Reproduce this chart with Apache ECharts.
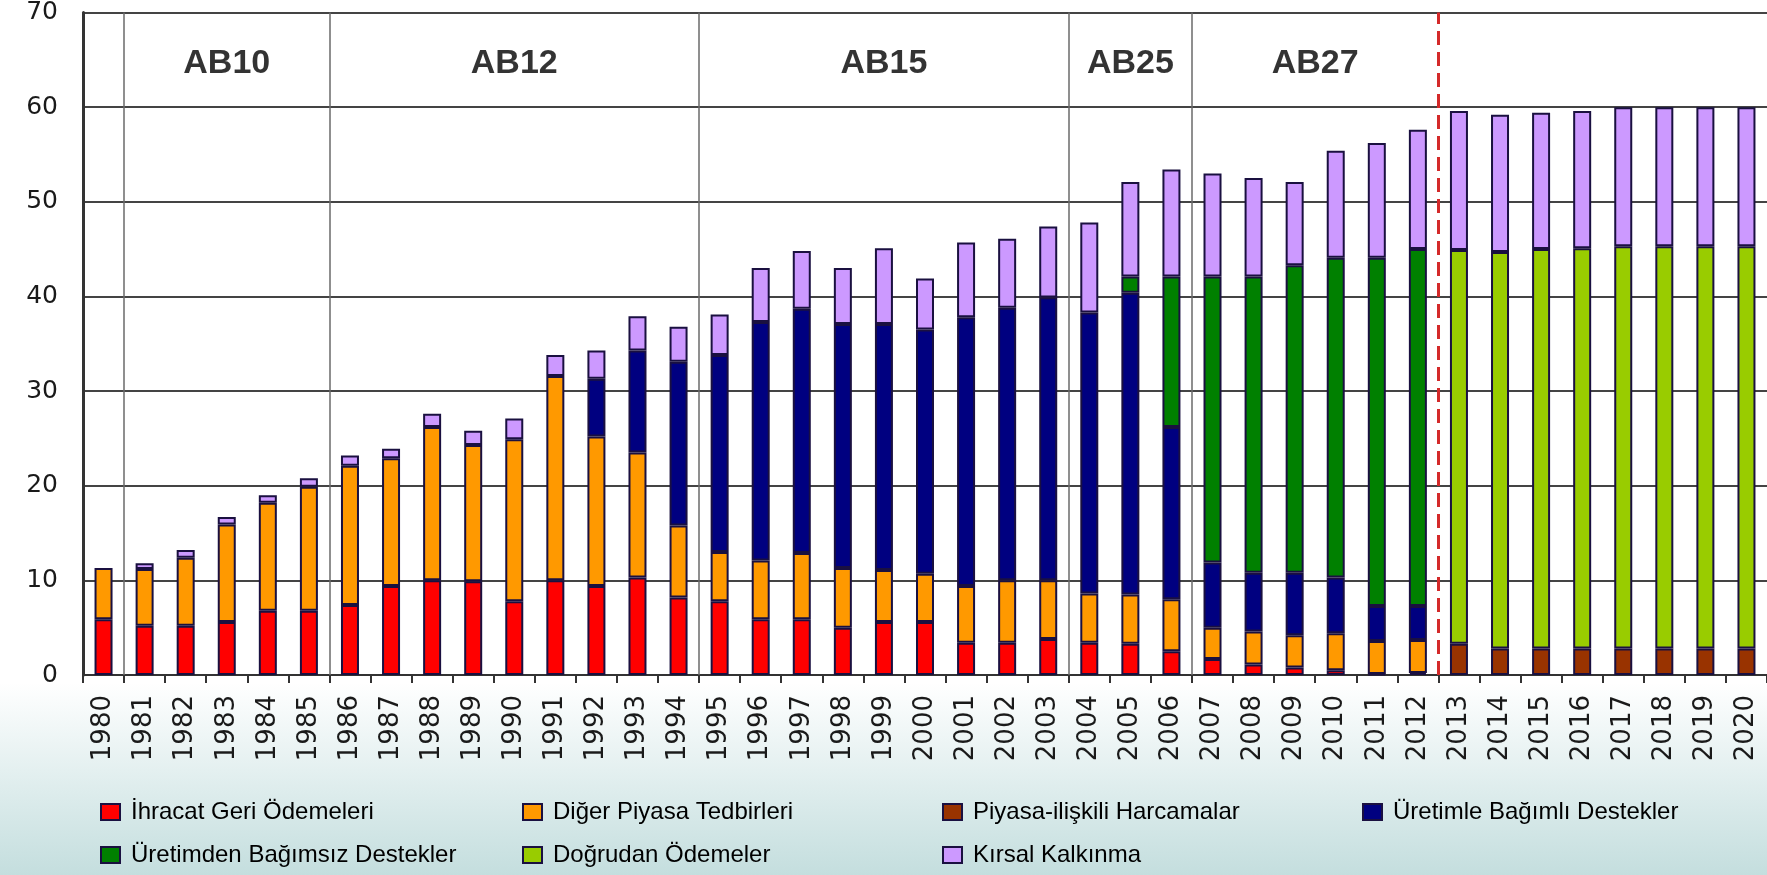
<!DOCTYPE html>
<html>
<head>
<meta charset="utf-8">
<title>AB tarım destekleri</title>
<script src="https://cdn.jsdelivr.net/npm/echarts@6.0.0/dist/echarts.min.js"></script>
<style>
  html, body { margin: 0; padding: 0; }
  #chart {
    width: 1767px;
    height: 875px;
    background: linear-gradient(to bottom, #ffffff 0%, #ffffff 78%, #e4f0f0 88%, #c4dede 100%);
  }
</style>
</head>
<body>
<div id="chart"></div>
<script>
// categories
var years = ['1980','1981','1982','1983','1984','1985','1986','1987','1988','1989',
             '1990','1991','1992','1993','1994','1995','1996','1997','1998','1999',
             '2000','2001','2002','2003','2004','2005','2006','2007','2008','2009',
             '2010','2011','2012','2013','2014','2015','2016','2017','2018','2019',
             '2020'];

// series values (milyar Euro)
var ihracat = [5.9,5.2,5.2,5.6,6.8,6.8,7.4,9.4,10.0,9.9,
               7.8,10.0,9.4,10.3,8.2,7.8,5.9,5.9,5.0,5.6,
               5.6,3.4,3.4,3.8,3.4,3.3,2.5,1.7,1.1,0.8,
               0.5,0.1,0.2,0,0,0,0,0,0,0,
               0];
var piyasaIliskili = [0,0,0,0,0,0,0,0,0,0,
                      0,0,0,0,0,0,0,0,0,0,
                      0,0,0,0,0,0,0,0,0,0,
                      0,0,0,3.3,2.8,2.8,2.8,2.8,2.8,2.8,
                      2.8];
var digerPiyasa = [5.4,6.0,7.2,10.3,11.4,13.1,14.7,13.5,16.2,14.4,
                   17.1,21.6,15.8,13.2,7.6,5.2,6.2,7.0,6.3,5.5,
                   5.1,6.0,6.6,6.2,5.2,5.2,5.5,3.3,3.5,3.4,
                   3.9,3.5,3.5,0,0,0,0,0,0,0,
                   0];
var uretimleBagimli = [0,0,0,0,0,0,0,0,0,0,
                       0,0,6.1,10.8,17.3,20.8,25.2,25.8,25.8,26.0,
                       25.8,28.4,28.8,29.9,29.7,31.9,18.2,6.9,6.2,6.6,
                       5.9,3.7,3.6,0,0,0,0,0,0,0,
                       0];
var uretimdenBagimsiz = [0,0,0,0,0,0,0,0,0,0,
                         0,0,0,0,0,0,0,0,0,0,
                         0,0,0,0,0,1.7,15.9,30.2,31.3,32.5,
                         33.8,36.8,37.7,0,0,0,0,0,0,0,
                         0];
var dogrudan = [0,0,0,0,0,0,0,0,0,0,
                0,0,0,0,0,0,0,0,0,0,
                0,0,0,0,0,0,0,0,0,0,
                0,0,0,41.6,41.9,42.2,42.3,42.5,42.5,42.5,
                42.5];
var kirsal = [0,0.6,0.8,0.8,0.8,0.9,1.1,1.0,1.4,1.5,
              2.2,2.2,3.0,3.6,3.7,4.3,5.7,6.1,5.9,8.0,
              5.4,7.9,7.3,7.5,9.5,10.0,11.3,10.9,10.4,8.8,
              11.3,12.1,12.6,14.7,14.5,14.4,14.5,14.7,14.7,14.7,
              14.7];

// reform periods
var periodNames = ['AB10','AB12','AB15','AB25','AB27'];
var periodStart = ['1981','1986','1995','2004','2007'];
var periodEnd   = ['1985','1994','2003','2006','2012'];
var forecastStart = '2013';

// y axis ticks
var yMin = 0, yMax = 70, yStep = 10;

var dom = document.getElementById('chart');
var myChart = echarts.init(dom, null, { renderer: 'canvas' });

var borderDark = '#1a1040';

function bar(name, values, color) {
    return {
        name: name,
        type: 'bar',
        stack: 'toplam',
        barWidth: 18,
        xAxisIndex: 0,
        data: values.map(function (v) { return v === 0 ? '-' : v; }),
        itemStyle: { color: color, borderColor: borderDark, borderWidth: 2 },
        emphasis: { disabled: true }
    };
}

var idx = function (y) { return years.indexOf(y); };

// period separators and forecast line
var sepLines = periodStart.map(function (y) {
    return { xAxis: idx(y) - 0.5, lineStyle: { color: '#6a6a6a', width: 1.5, type: 'solid' } };
});
sepLines.push({ xAxis: idx(forecastStart) - 0.5, lineStyle: { color: '#d42a2a', width: 3, type: [14, 7] } });

var periodLabels = periodNames.map(function (n, i) {
    return { value: [(idx(periodStart[i]) + idx(periodEnd[i])) / 2, 64.6], label: { formatter: n } };
});

// legend, 4 columns x 2 rows as in the slide
var legendCols = [100, 522, 942, 1362];
var legendRows = [799, 842];
var legendItems = [
    ['İhracat Geri Ödemeleri', 0, 0],
    ['Diğer Piyasa Tedbirleri', 1, 0],
    ['Piyasa-ilişkili Harcamalar', 2, 0],
    ['Üretimle Bağımlı Destekler', 3, 0],
    ['Üretimden Bağımsız Destekler', 0, 1],
    ['Doğrudan Ödemeler', 1, 1],
    ['Kırsal Kalkınma', 2, 1]
];

var option = {
    animation: false,
    backgroundColor: 'transparent',
    grid: {
        left: 83,
        top: 12,
        bottom: 200,
        width: 1693,
        show: true,
        backgroundColor: '#ffffff',
        borderWidth: 0
    },
    legend: legendItems.map(function (it) {
        return {
            data: [it[0]],
            left: legendCols[it[1]],
            top: legendRows[it[2]],
            padding: 0,
            icon: 'rect',
            itemWidth: 19,
            itemHeight: 16,
            selectedMode: false,
            textStyle: {
                fontFamily: 'Liberation Sans, Arial, sans-serif',
                fontSize: 24,
                lineHeight: 26,
                color: '#000000',
                padding: [0, 0, 0, 6]
            }
        };
    }),
    xAxis: [
        {
            type: 'category',
            data: years,
            boundaryGap: true,
            axisLine: { lineStyle: { color: '#333333', width: 2 } },
            axisTick: { show: true, interval: 0, length: 8, lineStyle: { color: '#333333', width: 2 } },
            axisLabel: {
                interval: 0,
                rotate: 90,
                margin: 20,
                fontFamily: 'DejaVu Sans, Verdana, sans-serif',
                fontSize: 26,
                color: '#1a1a1a'
            },
            splitLine: { show: false }
        },
        {
            type: 'value',
            min: -0.5,
            max: years.length - 0.5,
            show: false
        }
    ],
    yAxis: {
        type: 'value',
        min: yMin,
        max: yMax,
        interval: yStep,
        axisLine: { show: true, onZero: false, lineStyle: { color: '#333333', width: 3 } },
        axisTick: { show: false },
        axisLabel: {
            margin: 25,
            fontFamily: 'DejaVu Sans, Verdana, sans-serif',
            fontSize: 25,
            color: '#1a1a1a'
        },
        splitLine: { lineStyle: { color: '#444444', width: 2 } }
    },
    series: [
        bar('İhracat Geri Ödemeleri', ihracat, '#ff0000'),
        bar('Piyasa-ilişkili Harcamalar', piyasaIliskili, '#993300'),
        bar('Diğer Piyasa Tedbirleri', digerPiyasa, '#ff9900'),
        bar('Üretimle Bağımlı Destekler', uretimleBagimli, '#000080'),
        bar('Üretimden Bağımsız Destekler', uretimdenBagimsiz, '#008000'),
        bar('Doğrudan Ödemeler', dogrudan, '#99cc00'),
        bar('Kırsal Kalkınma', kirsal, '#cc99ff'),
        {
            type: 'scatter',
            xAxisIndex: 1,
            symbolSize: 0,
            silent: true,
            data: periodLabels,
            label: {
                show: true,
                position: 'inside',
                fontFamily: 'Liberation Sans, Arial, sans-serif',
                fontWeight: 'bold',
                fontSize: 34,
                color: '#000000'
            },
            markLine: {
                silent: true,
                symbol: ['none', 'none'],
                label: { show: false },
                data: sepLines
            }
        }
    ]
};

if (option && typeof option === "object") {
    myChart.setOption(option, true);
}
</script>
</body>
</html>
